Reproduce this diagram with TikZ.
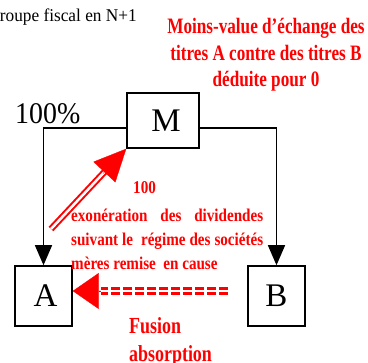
\documentclass[tikz,border=0pt]{standalone}
\usepackage{fontspec}
\setmainfont{Liberation Serif}
\newcommand{\stretchfont}[1]{\addfontfeatures{FakeStretch=#1}}
\usetikzlibrary{arrows.meta,calc}
\begin{document}
\begin{tikzpicture}[x=1pt,y=-1pt,
  box/.style={draw=black,line width=1.5pt,inner sep=0pt,font=\fontsize{33}{33}\selectfont},
  link/.style={draw=black,line width=1.3pt,-{Triangle[length=20pt,width=17pt]}},
  redtxt/.style={text=red,inner sep=0pt},
  reddouble/.style={draw=red,line width=2pt,double=white,double distance=2.5pt},
  reddash/.style={draw=red,line width=3pt,double=white,double distance=2.5pt,dash pattern=on 9pt off 3pt},
  redtip/.style={draw=red,fill=red,line width=0.3pt}
]
\useasboundingbox (0,0) rectangle (368,363);

% boxes
\node[box,minimum width=72pt,minimum height=55pt] (M) at (163,120.5) {\raisebox{-5pt}{\hspace*{6pt}M}};
\node[box,minimum width=57pt,minimum height=60pt] (A) at (43.5,296) {\hspace*{4pt}A};
\node[box,minimum width=57pt,minimum height=60pt] (B) at (276.5,296) {B};

% black links
\draw[link] ([yshift=-7.5pt]M.west) -| (A.north);
\draw[link] ([yshift=-7.5pt]M.east) -| (B.north);

% texts
\node[anchor=base east,inner sep=0pt,font=\fontsize{18}{18}\selectfont\stretchfont{0.96}] (title) at (137,22) {Groupe fiscal en N+1};
\node[anchor=base west,inner sep=0pt,font=\fontsize{30}{30}\selectfont\stretchfont{0.93}] (pct) at (15,124) {100\%};
\node[redtxt,anchor=base,align=center,font=\bfseries\fontsize{22}{26.5}\selectfont\stretchfont{0.78}] (mv) at (266,87)
  {Moins-value d'échange des\\titres A contre des titres B\\déduite pour 0};
\node[redtxt,anchor=base west,font=\bfseries\fontsize{18}{18}\selectfont\stretchfont{0.84}] (cent) at (133,194) {100};
\node[redtxt,anchor=base west,align=left,font=\bfseries\fontsize{18}{24}\selectfont\stretchfont{0.84}] (exo) at (71,270)
  {\makebox[192pt][s]{exonération des dividendes}\\
   \makebox[192pt][s]{suivant le\ \ régime des sociétés}\\
   mères remise\ \ en cause};
\node[redtxt,anchor=base west,align=left,font=\bfseries\fontsize{23}{28}\selectfont\stretchfont{0.78}] (fus) at (129,362)
  {Fusion\\absorption};

% red double arrow A -> M
\coordinate (t1) at (51,229);
\draw[reddouble] (t1) -- ($(M.south west)!28pt!(t1)$);
\draw[redtip,-{Triangle[length=32pt,width=30pt]}] ($(M.south west)!34pt!(t1)$) -- (M.south west);

% red dashed arrow B -> A
\coordinate (bw) at (228,291);
\draw[reddash] (bw) -- ([xshift=28pt,yshift=5pt]A.east);
\draw[redtip,-{Triangle[length=26pt,width=36pt]}] ([xshift=28pt,yshift=5pt]A.east) -- ([yshift=5pt]A.east);
\end{tikzpicture}
\end{document}
